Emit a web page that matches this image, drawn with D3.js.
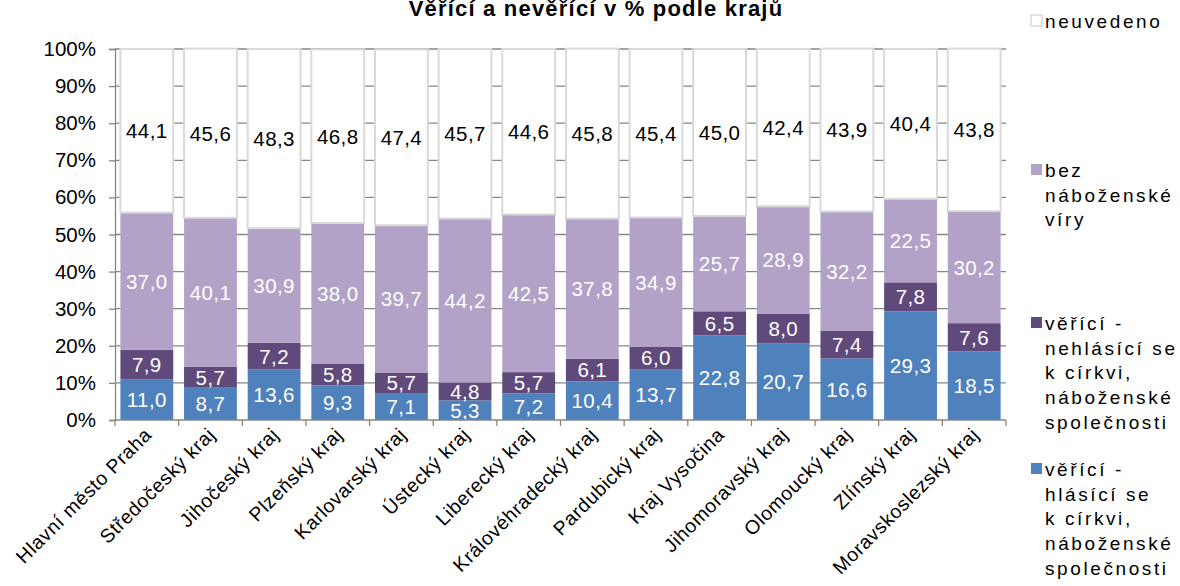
<!DOCTYPE html>
<html>
<head>
<meta charset="utf-8">
<script src="https://d3js.org/d3.v7.min.js"></script>
<style>
  body { margin: 0; background: #fff; }
  svg { display: block; font-family: "Liberation Sans", Arial, sans-serif; }
</style>
</head>
<body>
<svg id="chart"></svg>
<script>
// regions
var regions = ["Hlavní město Praha", "Středočeský kraj", "Jihočeský kraj", "Plzeňský kraj",
  "Karlovarský kraj", "Ústecký kraj", "Liberecký kraj", "Královéhradecký kraj",
  "Pardubický kraj", "Kraj Vysočina", "Jihomoravský kraj", "Olomoucký kraj",
  "Zlínský kraj", "Moravskoslezský kraj"];

// series, bottom to top
var hlasici   = [11.0, 8.7, 13.6, 9.3, 7.1, 5.3, 7.2, 10.4, 13.7, 22.8, 20.7, 16.6, 29.3, 18.5];
var nehlasici = [7.9, 5.7, 7.2, 5.8, 5.7, 4.8, 5.7, 6.1, 6.0, 6.5, 8.0, 7.4, 7.8, 7.6];
var bezViry   = [37.0, 40.1, 30.9, 38.0, 39.7, 44.2, 42.5, 37.8, 34.9, 25.7, 28.9, 32.2, 22.5, 30.2];
var neuvedeno = [44.1, 45.6, 48.3, 46.8, 47.4, 45.7, 44.6, 45.8, 45.4, 45.0, 42.4, 43.9, 40.4, 43.8];

var yTicks = [0, 10, 20, 30, 40, 50, 60, 70, 80, 90, 100];

var seriesKeys = ["hlasici", "nehlasici", "bez", "neuvedeno"];
var colors = {hlasici: "#4f81bd", nehlasici: "#604a7b", bez: "#b3a2c7", neuvedeno: "#ffffff"};
var labelColors = {hlasici: "#fff", nehlasici: "#fff", bez: "#fff", neuvedeno: "#000"};

var rows = regions.map(function(r, i) {
  return {region: r, hlasici: hlasici[i], nehlasici: nehlasici[i], bez: bezViry[i], neuvedeno: neuvedeno[i]};
});

var W = 1180, H = 586;
var margin = {top: 49, right: 174, bottom: 166, left: 115};
var width = W - margin.left - margin.right,
    height = H - margin.top - margin.bottom;

var svg = d3.select("#chart").attr("width", W).attr("height", H);
var g = svg.append("g").attr("transform", "translate(" + margin.left + "," + margin.top + ")");

var x = d3.scaleBand().domain(regions).range([0, width]).paddingInner(0.17).paddingOuter(0.085);
var y = d3.scaleLinear().domain([0, 100]).range([height, 0]);

// title (sits right at the top edge like the source)
svg.append("text")
  .attr("x", 596).attr("y", 16)
  .attr("text-anchor", "middle")
  .style("font-size", "22px").style("font-weight", "bold").style("letter-spacing", "1.2px")
  .text("Věřící a nevěřící v % podle krajů");

// gridlines
g.append("g")
  .selectAll("line").data(yTicks.filter(function(t){ return t > 0; }))
  .enter().append("line")
  .attr("x1", 0).attr("x2", width)
  .attr("y1", function(d){ return y(d); }).attr("y2", function(d){ return y(d); })
  .attr("stroke", "#868686").attr("stroke-width", 1.3);

// y axis
var yAxis = d3.axisLeft(y).tickValues(yTicks).tickSize(6).tickPadding(13)
  .tickFormat(function(d){ return d + "%"; });
var ya = g.append("g").call(yAxis);
ya.select(".domain").attr("stroke", "#868686").attr("stroke-width", 1.3);
ya.selectAll(".tick line").attr("stroke", "#868686").attr("stroke-width", 1.3);
ya.selectAll("text").style("font-size", "20.5px").attr("fill", "#000")
  .style("font-family", "'Liberation Sans', Arial, sans-serif");

// stacked bars
var stack = d3.stack().keys(seriesKeys);
var stacked = stack(rows);

var layers = g.append("g").selectAll("g").data(stacked).enter().append("g");
layers.selectAll("rect").data(function(d){ return d.map(function(v){ return {key: d.key, v: v}; }); })
  .enter().append("rect")
  .attr("x", function(d){ return x(d.v.data.region); })
  .attr("width", x.bandwidth())
  .attr("y", function(d){ return y(d.v[1]); })
  .attr("height", function(d){ return y(d.v[0]) - y(d.v[1]); })
  .attr("fill", function(d){ return colors[d.key]; })
  .attr("stroke", function(d){ return d.key === "neuvedeno" ? "#d9d9d9" : "none"; })
  .attr("stroke-width", 2);

// value labels
layers.selectAll("text").data(function(d){ return d.map(function(v){ return {key: d.key, v: v}; }); })
  .enter().append("text")
  .attr("x", function(d){ return x(d.v.data.region) + x.bandwidth() / 2; })
  .attr("y", function(d){ return y((d.v[0] + d.v[1]) / 2); })
  .attr("dy", "0.36em")
  .attr("text-anchor", "middle")
  .style("font-size", "20.5px").style("letter-spacing", "0.4px")
  .attr("fill", function(d){ return labelColors[d.key]; })
  .text(function(d){ return d3.format(".1f")(d.v[1] - d.v[0]).replace(".", ","); });

// x axis
var xa = g.append("g").attr("transform", "translate(0," + height + ")");
xa.append("line").attr("x1", 0).attr("x2", width).attr("y1", 0).attr("y2", 0)
  .attr("stroke", "#868686").attr("stroke-width", 1.3);
var step = x.step();
xa.selectAll(".xt").data(d3.range(regions.length + 1)).enter().append("line")
  .attr("x1", function(i){ return i * step; }).attr("x2", function(i){ return i * step; })
  .attr("y1", 0).attr("y2", 6)
  .attr("stroke", "#868686").attr("stroke-width", 1.3);
xa.selectAll(".xl").data(regions).enter().append("text")
  .attr("transform", function(d){ return "translate(" + (x(d) + x.bandwidth() / 2 + 6) + ",16) rotate(-45)"; })
  .attr("text-anchor", "end")
  .style("font-size", "19.5px").style("letter-spacing", "0.6px")
  .text(function(d){ return d; });

// legend
var legend = [
  {key: "neuvedeno", lines: ["neuvedeno"], y: 21},
  {key: "bez", lines: ["bez", "náboženské", "víry"], y: 170},
  {key: "nehlasici", lines: ["věřící -", "nehlásící se", "k církvi,", "náboženské", "společnosti"], y: 323},
  {key: "hlasici", lines: ["věřící -", "hlásící se", "k církvi,", "náboženské", "společnosti"], y: 469}
];
var lg = svg.append("g").selectAll("g").data(legend).enter().append("g")
  .attr("transform", function(d){ return "translate(1031," + d.y + ")"; });
lg.append("rect").attr("x", 0).attr("y", -6).attr("width", 11).attr("height", 11)
  .attr("fill", function(d){ return colors[d.key]; })
  .attr("stroke", function(d){ return d.key === "neuvedeno" ? "#d9d9d9" : "none"; })
  .attr("stroke-width", 1.5);
lg.selectAll("text").data(function(d){ return d.lines; }).enter().append("text")
  .attr("x", 14).attr("y", function(d, i){ return i * 24.7; })
  .attr("dy", "0.36em")
  .style("font-size", "19px").style("letter-spacing", "2.6px")
  .text(function(d){ return d; });
</script>
</body>
</html>
